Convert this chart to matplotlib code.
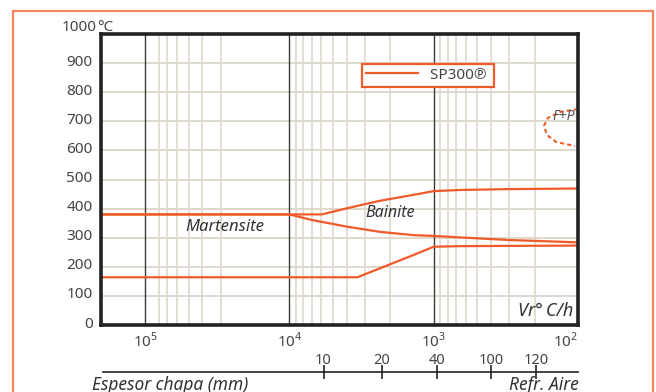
import matplotlib
matplotlib.use('Agg')
import matplotlib.pyplot as plt
import matplotlib.transforms as mtransforms
from matplotlib.patches import Rectangle
from matplotlib.ticker import NullLocator

plt.rcParams['font.family'] = ['Noto Sans', 'DejaVu Sans']
plt.rcParams['mathtext.fontset'] = 'custom'
plt.rcParams['mathtext.rm'] = 'Noto Sans'

# Velocidad de enfriamiento (C/h) y temperatura (C) de cada curva
bs_vr = [2.02e5, 5965, 4000, 2350, 1390, 1000, 656, 300, 100]
bs_t = [380, 380, 401, 427, 447, 460, 464, 467, 469]

ms_vr = [2.02e5, 1e4, 7000, 4000, 2350, 1390, 1000, 656, 300, 100]
ms_t = [380, 380, 361, 338, 320, 309, 306, 301, 292, 284]

mf_vr = [2.02e5, 3380, 2350, 1390, 1000, 656, 100]
mf_t = [164, 164, 195, 240, 269, 271, 273]

# Zona ferrita + perlita (curva en C)
fp_vr = [100, 133, 162, 172, 164, 142, 105]
fp_t = [742, 732, 711, 684, 653, 629, 615]

# Escala de espesores bajo el eje
espesor_vr = [5900, 2330, 960, 400, 195]
espesor_lbl = ['10', '20', '40', '100', '120']

y_ticks = [0, 100, 200, 300, 400, 500, 600, 700, 800, 900]
decadas = [1e5, 1e4, 1e3, 1e2]
decada_lbl = [r'$10^5$', r'$10^4$', r'$10^3$', r'$10^2$']
subs = ([k * 1e4 for k in range(3, 9)] + [k * 1e3 for k in range(2, 10)]
        + [k * 1e2 for k in range(2, 10)])

naranja = '#f05a28'
gris = '#444444'
beige = '#ddd8cb'

fig = plt.figure(figsize=(6.56, 3.92), dpi=100)

# marco naranja exterior
fig.patches.append(Rectangle((13 / 656, -0.1), 640 / 656, 1.1 - 11 / 392,
                             transform=fig.transFigure, fill=False,
                             edgecolor='#f4845f', linewidth=1.6))

ax = fig.add_axes([101 / 656, 67 / 392, 477 / 656, 291 / 392])
ax.set_xscale('log')
ax.set_xlim(2.02e5, 100)
ax.set_ylim(0, 1000)

for t in y_ticks[1:]:
    ax.axhline(t, color=beige, lw=1.4, zorder=1)
for v in subs:
    ax.axvline(v, color=beige, lw=1.2, zorder=1)
for v in decadas[:-1]:
    ax.axvline(v, color='#3a3a3a', lw=1.0, zorder=2)

ax.plot(bs_vr, bs_t, color=naranja, lw=1.6, zorder=3, label='SP300℗ ')
ax.plot(ms_vr, ms_t, color=naranja, lw=1.6, zorder=3)
ax.plot(mf_vr, mf_t, color=naranja, lw=1.6, zorder=3)
ax.plot(fp_vr, fp_t, color=naranja, lw=1.5, ls=(0, (2, 1.5)), zorder=3,
        clip_on=False)

for s in ax.spines.values():
    s.set_linewidth(2.6)
    s.set_color('#222222')
    s.set_zorder(5)

ax.set_yticks(y_ticks)
ax.set_yticklabels([str(t) for t in y_ticks])
ax.set_xticks(decadas)
ax.set_xticklabels(decada_lbl)
ax.xaxis.set_minor_locator(NullLocator())
ax.tick_params(axis='both', length=0, labelsize=11, labelcolor=gris)
ax.tick_params(axis='y', pad=6)
ax.tick_params(axis='x', pad=5)
ax.get_xticklabels()[-1].set_horizontalalignment('right')
up = mtransforms.ScaledTranslation(0, 3 / 100, fig.dpi_scale_trans)
for lb in ax.get_yticklabels():
    lb.set_transform(lb.get_transform() + up)

ax.annotate('1000', xy=(0, 1), xycoords='axes fraction', xytext=(-3.2, 5),
            textcoords='offset points', ha='right', va='center',
            fontsize=11, color=gris)
ax.annotate('°C', xy=(0, 1), xycoords='axes fraction', xytext=(-2.5, 5),
            textcoords='offset points', ha='left', va='center',
            fontsize=11, color=gris)

ax.text(27900, 337, 'Martensite', style='italic', fontsize=12,
        color='#333333', ha='center', va='center', zorder=4)
ax.text(2005, 384, 'Bainite', style='italic', fontsize=11.5,
        color='#333333', ha='center', va='center', zorder=4)
ax.text(125, 716, 'F+P', style='italic', fontsize=10,
        color='#555555', ha='center', va='center', zorder=4)
ax.text(0.99, 0.03, 'Vr°\u2009C/h', transform=ax.transAxes, style='italic',
        fontsize=13, color='#333333', ha='right', va='baseline', zorder=4)

leg = ax.legend(loc='upper left', bbox_to_anchor=(0.547, 0.897),
                fancybox=False, handlelength=3.4, fontsize=11,
                borderaxespad=0, borderpad=0.25, framealpha=1)
leg.get_frame().set_edgecolor(naranja)
leg.get_frame().set_linewidth(1.6)
for tx in leg.get_texts():
    tx.set_color(gris)

# escala de espesores
ax2 = fig.add_axes([103 / 656, 20 / 392, 475 / 656, 1e-4])
ax2.set_xscale('log')
ax2.set_xlim(2.02e5, 100)
ax2.set_xticks(espesor_vr)
ax2.set_xticklabels(espesor_lbl)
ax2.xaxis.set_minor_locator(NullLocator())
ax2.set_yticks([])
ax2.patch.set_alpha(0)
for k in ['left', 'right', 'top']:
    ax2.spines[k].set_visible(False)
ax2.spines['bottom'].set_color('#222222')
ax2.spines['bottom'].set_linewidth(1.2)
ax2.tick_params(axis='x', direction='inout', length=10, width=1.2,
                color='#222222', bottom=True, top=False, labelbottom=False,
                labeltop=True, pad=-2.5, labelsize=10.5, labelcolor=gris)

fig.text(92 / 656, 2.5 / 392, 'Espesor chapa (mm)', style='italic',
         fontsize=12.5, color='#333333', ha='left', va='baseline')
fig.text(579 / 656, 2.5 / 392, 'Refr. Aire', style='italic',
         fontsize=12.5, color='#333333', ha='right', va='baseline')

fig.savefig('out.png', dpi=100)
